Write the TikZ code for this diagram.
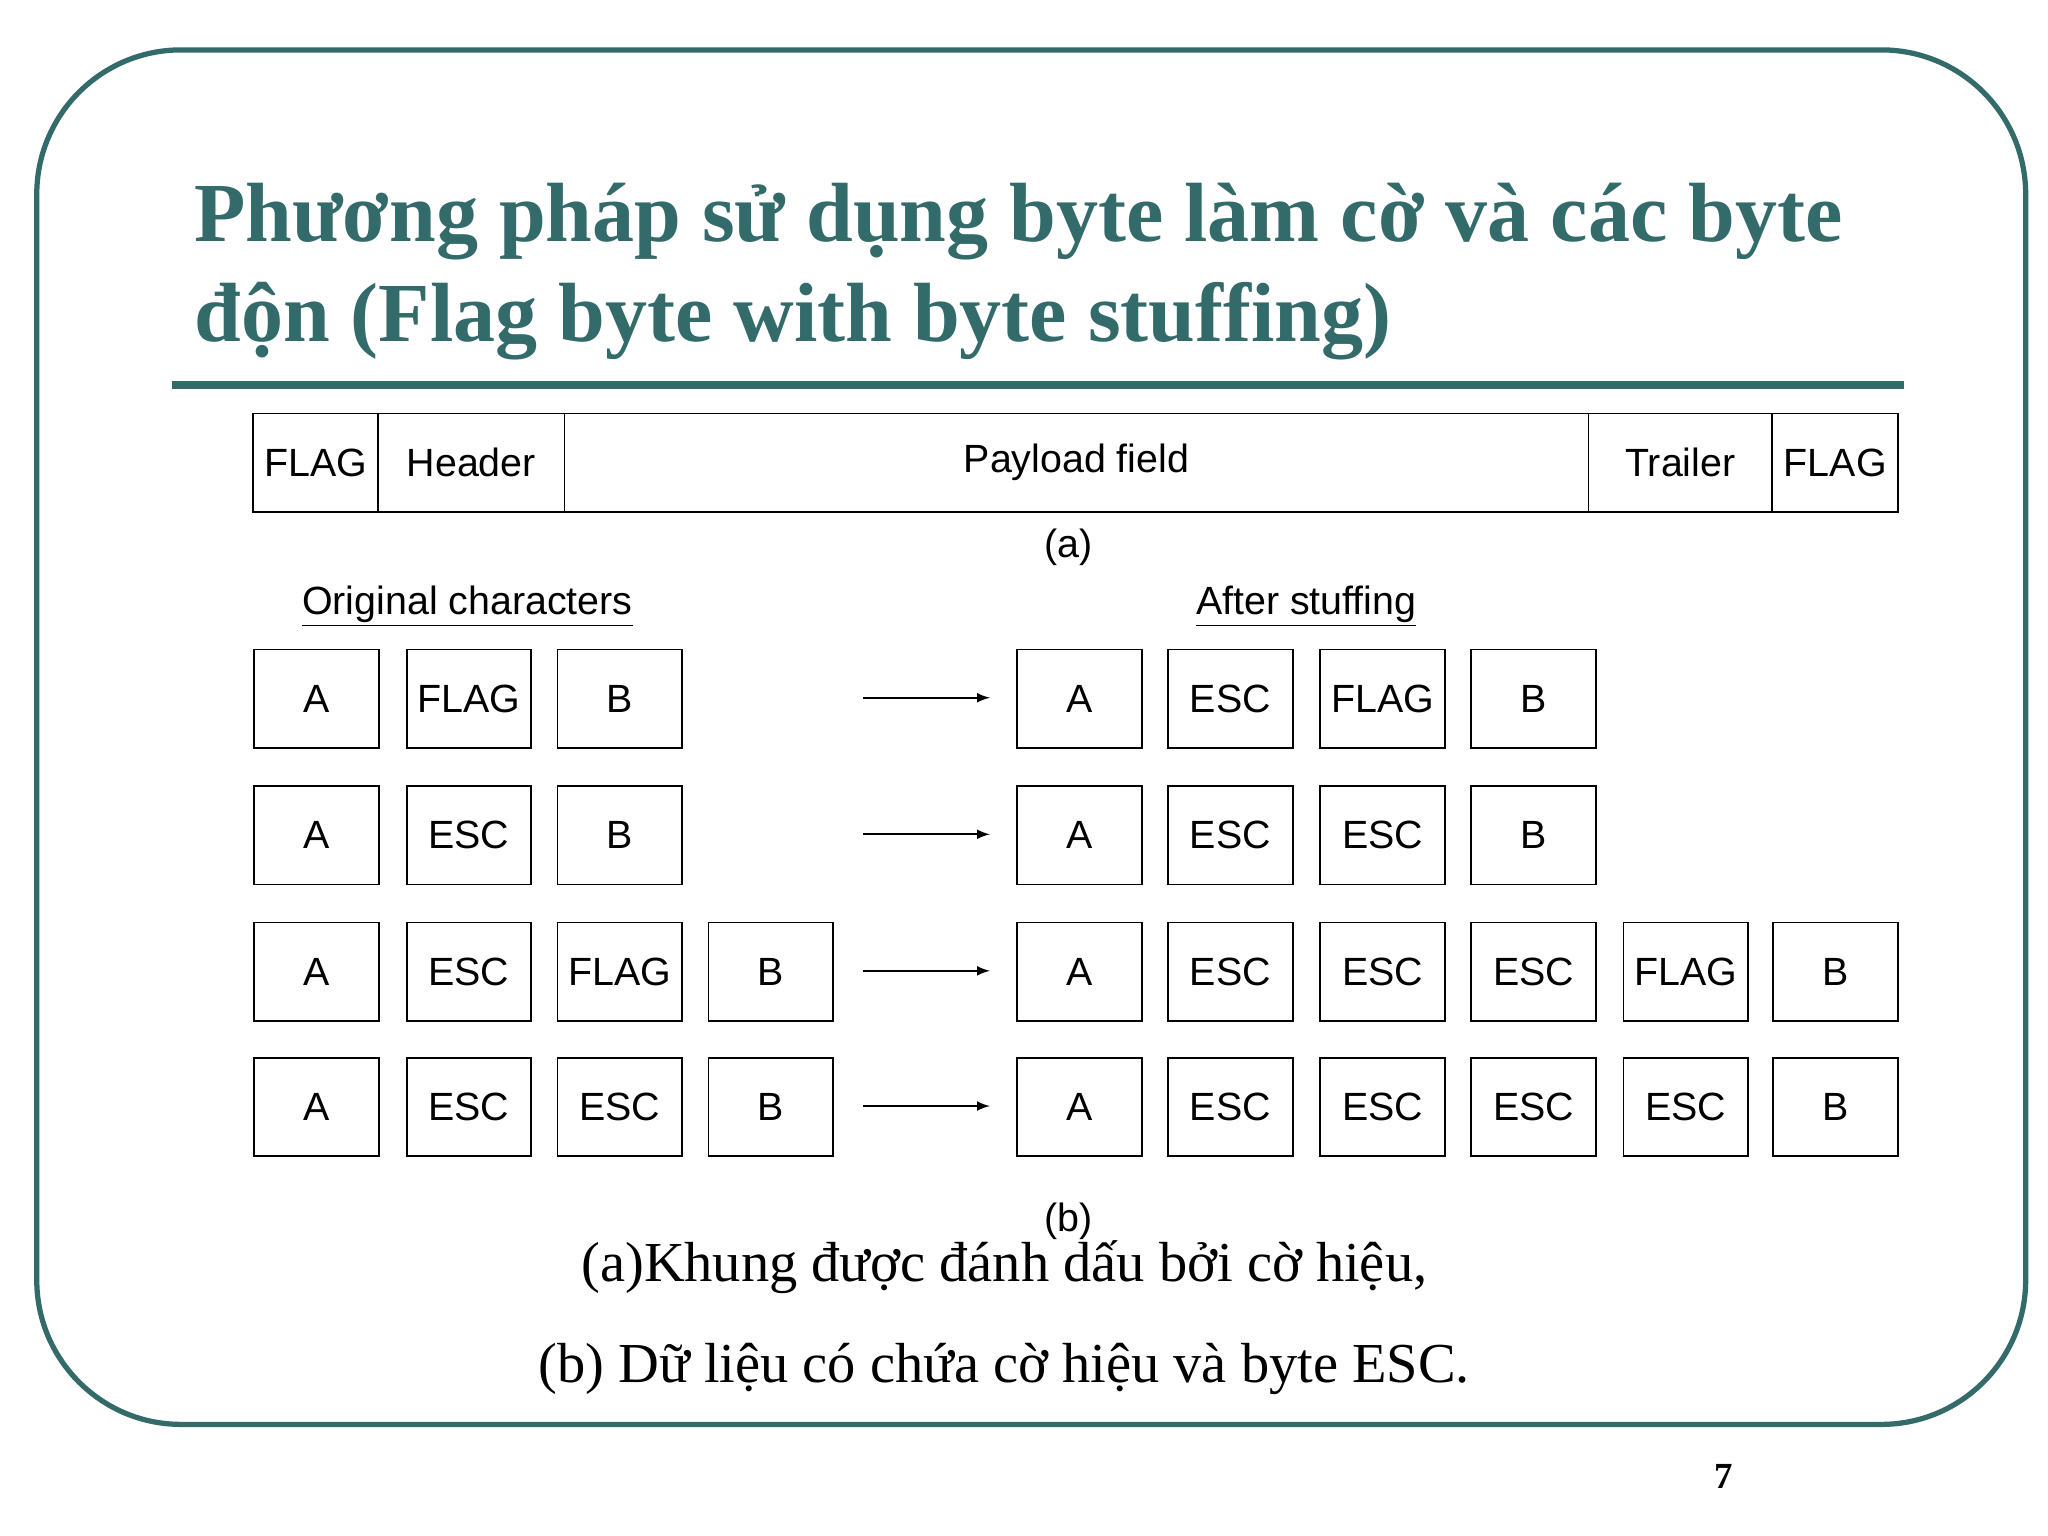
\documentclass[tikz,border=0pt]{standalone}
\usepackage{fontspec}
\setmainfont{Liberation Serif}
\newfontfamily\boxfont{Liberation Sans}
\definecolor{teal1}{HTML}{336B6B}
\begin{document}
\begin{tikzpicture}[x=0.5pt,y=-0.5pt,
  cell/.style={draw,line width=0.7pt,minimum width=47.5pt,minimum height=37.5pt,anchor=north west,inner sep=0pt,font=\boxfont\fontsize{15}{17}\selectfont},
  arr/.style={-latex,line width=0.7pt},
  lab/.style={font=\boxfont\fontsize{15}{17}\selectfont}]
\useasboundingbox (0,0) rectangle (1560,1170);
\fill[white] (0,0) rectangle (1560,1170);
\draw[teal1,line width=2pt,rounded corners=55pt] (28,38) rectangle (1543,1085);
\node[teal1,anchor=west,align=left,font=\bfseries\fontsize{32}{38}\selectfont] (title) at (141,207) {Phương pháp sử dụng byte làm cờ và các byte\\độn (Flag byte with byte stuffing)};
\draw[teal1,line width=3pt] (131,293) -- (1450,293);
% (a)
\foreach \n/\a/\b/\t in {f1/193/288/FLAG,h/288/430/Header,p/430/1210/Payload field,t/1210/1350/Trailer,f2/1350/1446/FLAG}{
  \node[draw,line width=0.7pt,inner sep=0pt,font=\boxfont\fontsize{15}{17}\selectfont] (\n) at ({(\a+\b)/2},352.5) [minimum width={(\b-\a)*0.5pt},minimum height=37.5pt] {\t};}
\node[lab] (la) at (814,417) {(a)};
\node[lab] (orig) at (356,462) {\underline{Original characters}};
\node[lab] (after) at (995,462) {\underline{After stuffing}};
% rows
\foreach \r/\y/\L/\R in {1/494/{A,FLAG,B}/{A,ESC,FLAG,B},2/598/{A,ESC,B}/{A,ESC,ESC,B},3/702/{A,ESC,FLAG,B}/{A,ESC,ESC,ESC,FLAG,B},4/805/{A,ESC,ESC,B}/{A,ESC,ESC,ESC,ESC,B}}{
  \foreach \t [count=\i] in \L {\pgfmathsetmacro\xx{{193,309,424,539}[\i-1]}\node[cell] (l\r\i) at (\xx,\y) {\t};}
  \foreach \t [count=\i] in \R {\pgfmathsetmacro\xx{{774,889,1005,1120,1236,1350}[\i-1]}\node[cell] (r\r\i) at (\xx,\y) {\t};}
  \coordinate (s\r) at (657,\y+37.5);
  \coordinate (e\r) at (754,\y+37.5);
  \draw[arr] (s\r) -- (e\r);
}
\node[lab] (lb) at (814,930) {(b)};
\node[font=\fontsize{21.5}{25}\selectfont] (c1) at (765,965) {(a)Khung được đánh dấu bởi cờ hiệu,};
\node[font=\fontsize{21.5}{25}\selectfont] (c2) at (765,1043) {(b) Dữ liệu có chứa cờ hiệu và byte ESC.};
\node[font=\bfseries\fontsize{14}{16}\selectfont] (pg) at (1313,1125) {7};
\end{tikzpicture}
\end{document}
